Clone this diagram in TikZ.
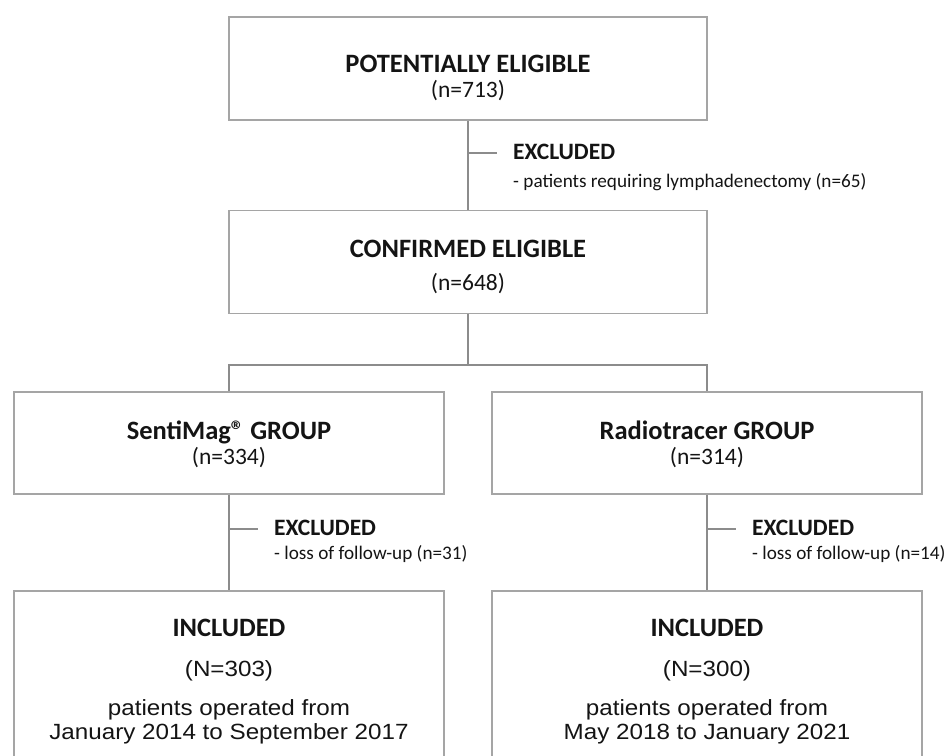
\documentclass[tikz,border=0pt]{standalone}
\usepackage{fontspec}
\setmainfont{Carlito}
\newfontfamily\arialfont[FakeStretch=1.1]{Liberation Sans}
\usepackage{tikz}
\definecolor{boxgray}{RGB}{165,165,165}
\definecolor{linegray}{RGB}{140,140,140}
\definecolor{inkblack}{RGB}{20,20,20}

\begin{document}
\begin{tikzpicture}[x=1pt,y=-1pt,
		wide/.style={draw=boxgray,line width=1.7pt,minimum width=478pt,minimum height=103pt,inner sep=0pt},
		half/.style={draw=boxgray,line width=1.7pt,minimum width=430pt,minimum height=102pt,inner sep=0pt},
		conn/.style={draw=linegray,line width=1.1pt},
		head/.style={text=inkblack,font=\fontsize{26.5}{30}\selectfont\bfseries,anchor=base,inner sep=0pt},
		count/.style={text=inkblack,font=\fontsize{23.5}{27}\selectfont,anchor=base,inner sep=0pt},
		exhead/.style={text=inkblack,font=\fontsize{23.5}{27}\selectfont\bfseries,anchor=base west,inner sep=0pt},
		exitem/.style={text=inkblack,font=\fontsize{19.2}{23}\selectfont,anchor=base west,inner sep=0pt},
		period/.style={text=inkblack,font=\arialfont\fontsize{22}{26}\selectfont,anchor=base,inner sep=0pt}]
	\useasboundingbox (0,0) rectangle (949,755);
	\clip (0,0) rectangle (949,755);
	% boxes
	\node[wide] (potential) at (468,68.5) {};
	\node[wide] (confirmed) at (468,262) {};
	\node[half] (senti) at (229,443) {};
	\node[half] (radio) at (707,443) {};
	\node[half,minimum height=189pt] (inclsenti) at (229,685.5) {};
	\node[half,minimum height=189pt] (inclradio) at (707,685.5) {};
	% texts in the boxes
	\node[head] (potentialtitle) at (468,72) {POTENTIALLY ELIGIBLE};
	\node[count] (potentialn) at (468,97) {(n=713)};
	\node[head] (confirmedtitle) at (468,257) {CONFIRMED ELIGIBLE};
	\node[count] (confirmedn) at (468,290) {(n=648)};
	\node[head] (sentititle) at (229,439) {SentiMag\textregistered{} GROUP};
	\node[count] (sentin) at (229,464) {(n=334)};
	\node[head] (radiotitle) at (707,439) {Radiotracer GROUP};
	\node[count] (radion) at (707,464) {(n=314)};
	\node[head] (inclsentititle) at (229,636) {INCLUDED};
	\node[period] (inclsentin) at (229,676) {(N=303)};
	\node[period] (inclsentifrom) at (229,715) {patients operated from};
	\node[period] (inclsentito) at (229,739) {January 2014 to September 2017};
	\node[head] (inclradiotitle) at (707,636) {INCLUDED};
	\node[period] (inclradion) at (707,676) {(N=300)};
	\node[period] (inclradiofrom) at (707,715) {patients operated from};
	\node[period] (inclradioto) at (707,739) {May 2018 to January 2021};
	% exclusions
	\node[exhead] (exfirst) at (513,159) {EXCLUDED};
	\node[exitem] (exfirstwhy) at (513,187) {- patients requiring lymphadenectomy (n=65)};
	\node[exhead] (exsenti) at (274,535) {EXCLUDED};
	\node[exitem] (exsentiwhy) at (274,559) {- loss of follow-up (n=31)};
	\node[exhead] (exradio) at (752,535) {EXCLUDED};
	\node[exitem] (exradiowhy) at (752,559) {- loss of follow-up (n=14)};
	% connectors
	\coordinate (cutfirst) at (497,153);
	\coordinate (split) at (468,365);
	\coordinate (cutsenti) at (258,529);
	\coordinate (cutradio) at (736,529);
	\draw[conn] (potential) -- (confirmed);
	\draw[conn] (cutfirst -| potential.south) -- (cutfirst);
	\draw[conn] (confirmed) -- (split);
	\draw[conn] (senti.north) |- (split) -| (radio.north);
	\draw[conn] (senti) -- (inclsenti);
	\draw[conn] (cutsenti -| senti.south) -- (cutsenti);
	\draw[conn] (radio) -- (inclradio);
	\draw[conn] (cutradio -| radio.south) -- (cutradio);
\end{tikzpicture}
\end{document}
